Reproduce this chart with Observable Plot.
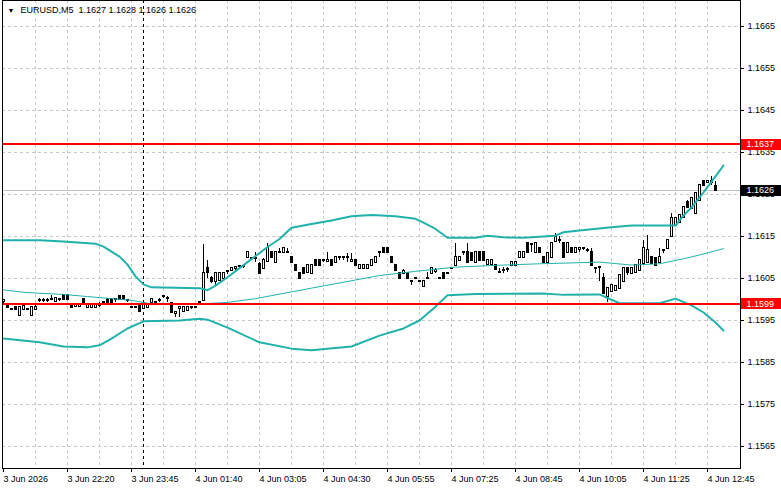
<!DOCTYPE html>
<html><head><meta charset="utf-8">
<script src="https://cdn.jsdelivr.net/npm/d3@7"></script>
<script src="https://cdn.jsdelivr.net/npm/@observablehq/plot@0.6"></script>
<style>body{margin:0;background:#fff}</style>
</head><body><div id="chart"></div>
<script>
const symbol = "EURUSD,M5";
const open = [
1.15996,1.15988,1.15977,1.15981,1.15961,1.15977,1.15977,1.15961,1.15977,1.15998,
1.15998,1.15997,1.15999,1.15996,1.15999,1.16010,1.16010,1.15988,1.15984,1.15984,
1.16000,1.15982,1.15982,1.15982,1.15986,1.15992,1.16000,1.16000,1.15999,1.16008,
1.16008,1.15998,1.15982,1.15982,1.15988,1.15979,1.15981,1.15994,1.15994,1.15998,
1.16006,1.16002,1.15990,1.15967,1.15979,1.15972,1.15974,1.15980,1.15981,1.15993,
1.15998,1.16074,1.16051,1.16042,1.16046,1.16050,1.16066,1.16069,1.16074,1.16079,
1.16078,1.16101,1.16098,1.16098,1.16084,1.16074,1.16091,1.16113,1.16089,1.16112,
1.16112,1.16112,1.16100,1.16081,1.16063,1.16074,1.16065,1.16062,1.16092,1.16092,
1.16092,1.16091,1.16092,1.16089,1.16100,1.16100,1.16100,1.16091,1.16092,1.16074,
1.16074,1.16074,1.16081,1.16089,1.16112,1.16121,1.16121,1.16100,1.16081,1.16063,
1.16062,1.16063,1.16042,1.16050,1.16044,1.16031,1.16050,1.16063,1.16067,1.16050,
1.16063,1.16063,1.16074,1.16081,1.16092,1.16112,1.16113,1.16109,1.16089,1.16113,
1.16113,1.16084,1.16084,1.16081,1.16064,1.16069,1.16072,1.16081,1.16081,1.16101,
1.16101,1.16133,1.16131,1.16111,1.16121,1.16100,1.16089,1.16101,1.16139,1.16141,
1.16133,1.16111,1.16121,1.16111,1.16120,1.16121,1.16117,1.16111,1.16074,1.16075,
1.16050,1.16006,1.16018,1.16022,1.16026,1.16042,1.16074,1.16062,1.16065,1.16069,
1.16085,1.16089,1.16101,1.16097,1.16089,1.16116,1.16121,1.16149,1.16176,1.16184,
1.16196,1.16230,1.16217,1.16204,1.16236,1.16280,1.16279,1.16279,1.16270];
const high = [
1.16000,1.15991,1.15979,1.15984,1.15984,1.15988,1.15979,1.15984,1.15986,1.16002,
1.16002,1.16002,1.16010,1.16003,1.16002,1.16011,1.16011,1.15991,1.15990,1.15988,
1.16002,1.15990,1.15990,1.15990,1.15992,1.15993,1.16002,1.16002,1.16000,1.16010,
1.16010,1.15999,1.15984,1.15984,1.15991,1.15992,1.15990,1.16000,1.15996,1.16003,
1.16010,1.16006,1.15992,1.15970,1.15981,1.15981,1.15981,1.15984,1.15982,1.15994,
1.16131,1.16093,1.16054,1.16063,1.16064,1.16065,1.16067,1.16074,1.16075,1.16080,
1.16081,1.16113,1.16100,1.16112,1.16087,1.16097,1.16133,1.16115,1.16115,1.16122,
1.16122,1.16121,1.16101,1.16082,1.16065,1.16075,1.16082,1.16082,1.16093,1.16093,
1.16093,1.16113,1.16093,1.16100,1.16101,1.16101,1.16109,1.16109,1.16093,1.16082,
1.16082,1.16082,1.16094,1.16102,1.16113,1.16122,1.16122,1.16101,1.16082,1.16064,
1.16071,1.16064,1.16043,1.16051,1.16045,1.16043,1.16065,1.16075,1.16074,1.16051,
1.16064,1.16064,1.16075,1.16133,1.16100,1.16113,1.16134,1.16110,1.16114,1.16114,
1.16114,1.16093,1.16093,1.16082,1.16074,1.16077,1.16077,1.16090,1.16090,1.16112,
1.16112,1.16134,1.16133,1.16134,1.16122,1.16101,1.16110,1.16134,1.16157,1.16149,
1.16134,1.16134,1.16122,1.16122,1.16121,1.16122,1.16121,1.16121,1.16077,1.16077,
1.16062,1.16027,1.16035,1.16032,1.16058,1.16074,1.16077,1.16075,1.16082,1.16094,
1.16141,1.16153,1.16102,1.16098,1.16122,1.16117,1.16142,1.16204,1.16194,1.16201,
1.16221,1.16236,1.16242,1.16253,1.16273,1.16281,1.16281,1.16292,1.16280];
const low = [
1.15991,1.15979,1.15974,1.15974,1.15960,1.15975,1.15974,1.15960,1.15975,1.15994,
1.15994,1.15994,1.15998,1.15994,1.15996,1.15999,1.15999,1.15979,1.15982,1.15982,
1.15993,1.15981,1.15981,1.15981,1.15982,1.15990,1.15993,1.15993,1.15994,1.15999,
1.15999,1.15994,1.15981,1.15981,1.15970,1.15978,1.15979,1.15993,1.15992,1.15994,
1.16002,1.15994,1.15969,1.15958,1.15958,1.15971,1.15973,1.15976,1.15979,1.15992,
1.15997,1.16050,1.16039,1.16034,1.16044,1.16048,1.16060,1.16067,1.16069,1.16073,
1.16074,1.16100,1.16096,1.16088,1.16062,1.16073,1.16089,1.16098,1.16088,1.16111,
1.16111,1.16111,1.16088,1.16068,1.16049,1.16062,1.16064,1.16061,1.16080,1.16080,
1.16088,1.16089,1.16080,1.16088,1.16093,1.16093,1.16089,1.16089,1.16079,1.16072,
1.16072,1.16072,1.16080,1.16088,1.16101,1.16110,1.16110,1.16086,1.16068,1.16049,
1.16061,1.16049,1.16034,1.16049,1.16043,1.16030,1.16049,1.16062,1.16061,1.16049,
1.16049,1.16062,1.16072,1.16080,1.16091,1.16105,1.16088,1.16091,1.16088,1.16091,
1.16091,1.16083,1.16083,1.16070,1.16063,1.16063,1.16065,1.16080,1.16080,1.16100,
1.16100,1.16110,1.16111,1.16110,1.16110,1.16088,1.16088,1.16100,1.16138,1.16133,
1.16100,1.16110,1.16110,1.16110,1.16111,1.16117,1.16111,1.16080,1.16063,1.16042,
1.16013,1.15994,1.16017,1.16021,1.16025,1.16041,1.16058,1.16061,1.16064,1.16068,
1.16084,1.16088,1.16084,1.16080,1.16088,1.16109,1.16120,1.16148,1.16174,1.16183,
1.16195,1.16219,1.16216,1.16203,1.16235,1.16271,1.16276,1.16272,1.16260];
const close = [
1.15998,1.15981,1.15975,1.15977,1.15982,1.15984,1.15977,1.15982,1.15982,1.15998,
1.15997,1.15998,1.16000,1.16002,1.15999,1.16000,1.16000,1.15981,1.15988,1.15988,
1.15994,1.15988,1.15988,1.15988,1.15987,1.15992,1.15994,1.15994,1.16000,1.16000,
1.16000,1.15997,1.15982,1.15982,1.15972,1.15991,1.15988,1.16000,1.15994,1.15998,
1.16006,1.16002,1.15970,1.15968,1.15980,1.15981,1.15981,1.15981,1.15981,1.15993,
1.16062,1.16064,1.16042,1.16062,1.16062,1.16062,1.16067,1.16073,1.16075,1.16079,
1.16079,1.16111,1.16098,1.16097,1.16063,1.16093,1.16122,1.16100,1.16113,1.16113,
1.16121,1.16113,1.16089,1.16069,1.16050,1.16063,1.16081,1.16081,1.16081,1.16081,
1.16092,1.16092,1.16081,1.16099,1.16099,1.16099,1.16100,1.16092,1.16080,1.16081,
1.16081,1.16081,1.16093,1.16101,1.16113,1.16111,1.16111,1.16087,1.16069,1.16050,
1.16067,1.16050,1.16042,1.16050,1.16044,1.16042,1.16051,1.16074,1.16068,1.16050,
1.16050,1.16063,1.16074,1.16101,1.16099,1.16112,1.16089,1.16092,1.16113,1.16092,
1.16092,1.16092,1.16092,1.16071,1.16065,1.16069,1.16072,1.16089,1.16089,1.16111,
1.16111,1.16111,1.16131,1.16133,1.16111,1.16089,1.16109,1.16133,1.16148,1.16141,
1.16101,1.16133,1.16111,1.16121,1.16121,1.16121,1.16117,1.16081,1.16074,1.16076,
1.16014,1.16026,1.16034,1.16031,1.16057,1.16073,1.16065,1.16074,1.16081,1.16093,
1.16121,1.16117,1.16085,1.16081,1.16101,1.16117,1.16141,1.16192,1.16193,1.16200,
1.16220,1.16220,1.16241,1.16252,1.16272,1.16272,1.16280,1.16280,1.16260];

// Bollinger bands (read at sample bars)
const upperBars = [0,9,15,23,25,27,29,31,33,35,37,49,51,53,56,61,66,69,72,77,82,87,92,98,103,105,108,111,118,121,125,130,135,138,140,144,152,157,168,170,172,175,178,180];
const upperPrices = [1.16141,1.16141,1.16138,1.16133,1.16126,1.16114,1.16102,1.16083,1.16055,1.16036,1.16029,1.16027,1.16022,1.16033,1.16053,1.16089,1.16125,1.16144,1.16171,1.16180,1.16188,1.16198,1.16201,1.16198,1.16192,1.16183,1.16168,1.16147,1.16147,1.16152,1.16148,1.16147,1.16150,1.16152,1.16160,1.16164,1.16172,1.16176,1.16176,1.16200,1.16219,1.16255,1.16293,1.16319];
const middleBars = [0,5,15,21,27,32,36,50,56,63,77,94,103,113,125,134,149,157,164,170,174,178,180];
const middlePrices = [1.16023,1.16017,1.16012,1.16007,1.16002,1.15998,1.15991,1.15990,1.15993,1.16002,1.16027,1.16057,1.16067,1.16077,1.16082,1.16085,1.16089,1.16082,1.16085,1.16097,1.16106,1.16116,1.16121];
const lowerBars = [0,9,15,21,24,27,31,35,44,49,51,56,64,72,77,87,94,100,104,108,111,118,135,140,149,154,164,168,172,175,178,180];
const lowerPrices = [1.15907,1.15898,1.15888,1.15886,1.15891,1.15907,1.15931,1.15948,1.15950,1.15954,1.15952,1.15933,1.15898,1.15883,1.15879,1.15888,1.15914,1.15931,1.15950,1.15983,1.16010,1.16013,1.16014,1.16011,1.16012,1.15991,1.15991,1.16002,1.15986,1.15969,1.15945,1.15926];

const timeLabels = ["3 Jun 2026","3 Jun 22:20","3 Jun 23:45","4 Jun 01:40","4 Jun 03:05","4 Jun 04:30","4 Jun 05:55","4 Jun 07:25","4 Jun 08:45","4 Jun 10:05","4 Jun 11:25","4 Jun 12:45"];
const labelBars = [0,16,32,48,64,80,96,112,128,144,160,176];
const gridBars = [8,16,24,32,40,48,56,64,72,80,88,96,104,112,120,128,136,144,152,160,168,176];
const daySeparatorBar = 35;
const priceTicks = [1.1565,1.1575,1.1585,1.1595,1.1605,1.1615,1.1625,1.1635,1.1645,1.1655,1.1665];
const levelPrices = [1.1637, 1.1599];
const bidPrice = 1.1626;

const bars = open.map((o, i) => ({i, o, h: high[i], l: low[i], c: close[i]}));
const band = (bs, ps) => bs.map((b, k) => ({b, p: ps[k]}));
const last = bars.length - 1;
const title = `${symbol}  ${open[last].toFixed(4)} ${high[last].toFixed(4)} ${low[last].toFixed(4)} ${close[last].toFixed(4)}`;
const boxes = [
  {p: levelPrices[0], color: "#ff0000"},
  {p: bidPrice, color: "#000000"},
  {p: levelPrices[1], color: "#ff0000"}
];
const teal = "#20b2aa";
const crisp = {shapeRendering: "crispEdges"};

const chart = Plot.plot({
  width: 781, height: 489,
  marginLeft: 2, marginRight: 41, marginTop: 0, marginBottom: 21,
  x: {type: "linear", domain: [-0.25, 184.25], axis: null},
  y: {domain: [1.155976, 1.167119], axis: null},
  color: {type: "identity"},
  style: {fontFamily: "'Liberation Sans', Arial, sans-serif", fontSize: "9px", background: "#fff", color: "#000"},
  marks: [
    Plot.ruleY(priceTicks, {stroke: "#c8c8c8", strokeDasharray: "3,3", ...crisp}),
    Plot.ruleX(gridBars, {stroke: "#c8c8c8", strokeDasharray: "3,3", ...crisp}),
    Plot.ruleX([daySeparatorBar], {stroke: "#000", strokeDasharray: "3,3", ...crisp}),
    Plot.ruleY([bidPrice], {stroke: "#c0c0c0", ...crisp}),
    Plot.ruleX(bars, {x: "i", y1: "l", y2: "h", stroke: "#000", ...crisp}),
    Plot.rect(bars, {x1: d => d.i - 0.25, x2: d => d.i + 0.25, y1: "o", y2: "c",
      fill: d => d.c >= d.o ? "#ffffff" : "#000000", stroke: "#000", insetTop: -0.5, insetBottom: -0.5, ...crisp}),
    Plot.line(band(upperBars, upperPrices), {x: "b", y: "p", stroke: teal, strokeWidth: 2}),
    Plot.line(band(middleBars, middlePrices), {x: "b", y: "p", stroke: teal, strokeWidth: 1}),
    Plot.line(band(lowerBars, lowerPrices), {x: "b", y: "p", stroke: teal, strokeWidth: 2}),
    Plot.ruleY(levelPrices, {stroke: "#ff0000", strokeWidth: 2, ...crisp}),
    Plot.frame({stroke: "#000", ...crisp}),
    Plot.axisY(priceTicks, {anchor: "right", tickSize: 3, tickPadding: 4, tickFormat: d => d.toFixed(4), label: null, fill: "#000"}),
    Plot.axisX(labelBars, {anchor: "bottom", tickSize: 4, tickPadding: 3, textAnchor: "start",
      tickFormat: d => timeLabels[labelBars.indexOf(d)], label: null, fill: "#000"}),
    Plot.ruleY(boxes, {y: "p", x1: 184.5, x2: 194.5, stroke: "color", strokeWidth: 11, ...crisp}),
    Plot.text(boxes, {y: "p", text: d => d.p.toFixed(4), frameAnchor: "right", dx: 6, textAnchor: "start", fill: "#fff"}),
    Plot.text([title], {frameAnchor: "top-left", dx: 18, dy: 10, textAnchor: "start", lineAnchor: "middle", fill: "#000"}),
    Plot.text(["▼"], {frameAnchor: "top-left", dx: 5, dy: 10, textAnchor: "start", lineAnchor: "middle", fontSize: 7, fill: "#000"})
  ]
});
document.getElementById("chart").appendChild(chart);
</script>
</body></html>
